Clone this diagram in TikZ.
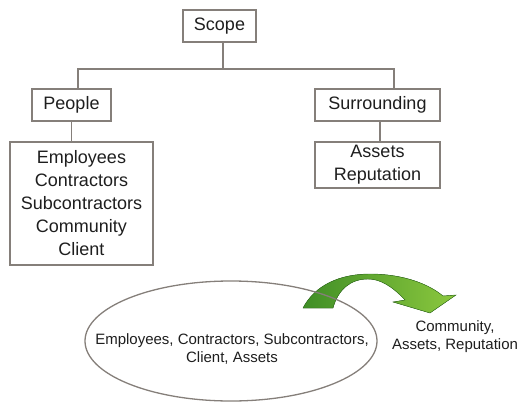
\documentclass[tikz,border=0pt]{standalone}
\usepackage{fontspec}
\setmainfont{Liberation Sans}
\usepackage{xcolor}
\usepackage{tikz}
\usetikzlibrary{shapes,positioning,calc}

\definecolor{boxline}{HTML}{857F7A}
\definecolor{darkgreen}{HTML}{3F8E26}
\definecolor{lightgreen}{HTML}{8CC83E}
\definecolor{txt}{HTML}{1E1E1E}

\tikzset{
    box/.style={draw=boxline, line width=1.3pt, rectangle, align=center, inner sep=0pt,
        text=txt, font=\fontsize{18}{23}\selectfont},
    link/.style={draw=boxline, line width=1.3pt},
    small/.style={align=center, text=txt, font=\fontsize{15}{18}\selectfont}
}

\begin{document}
\begin{tikzpicture}[x=1pt, y=-1pt]
    \useasboundingbox (0,0) rectangle (523,402);

    % Tree
    \node[box, minimum width=73, minimum height=32] (scope) at (219.5, 26) {Scope};
    \node[box, minimum width=79, minimum height=32] (people) at (71.5, 105) {People};
    \node[box, minimum width=125, minimum height=32] (surround) at (377.5, 105) {Surrounding};
    \node[box, minimum width=143, minimum height=123] (plist) at (81.5, 203.5)
        {Employees\\Contractors\\Subcontractors\\Community\\Client};
    \node[box, minimum width=125, minimum height=46] (alist) at (377.5, 165) {Assets\\Reputation};

    \coordinate (busL) at (78, 69);
    \coordinate (busR) at (394, 69);
    \draw[link] ([xshift=3.5]scope.south) -- ([xshift=3.5]scope.south |- busL);
    \draw[link] (busL |- people.north) -- (busL) -- (busR) -- (busR |- surround.north);
    \draw[link] (people.south) -- (people.south |- plist.north);
    \draw[link] ([xshift=2.5]surround.south) -- ([xshift=2.5]surround.south |- alist.north);

    % Curved arrow
    \fill[left color=darkgreen, right color=lightgreen, draw=darkgreen!80!black, line width=0.4pt]
        (303,308) .. controls (315,285) and (340,274) .. (370,274)
        .. controls (405,274) and (430,285) .. (443,296)
        -- (456,295) -- (430,313) -- (393,302) -- (405,300)
        .. controls (392,286) and (380,279) .. (368,279)
        .. controls (350,279) and (338,290) .. (333,308) -- cycle;

    % Ellipse
    \node[draw=boxline, line width=1.3pt, ellipse, minimum width=292, minimum height=120] (zone)
        at (231, 341) {};
    \node[small] (inside) at (232, 349) {Employees, Contractors, Subcontractors,\\Client, Assets};
    \node[small] (outside) at (455, 337) {Community,\\Assets, Reputation};
\end{tikzpicture}
\end{document}
